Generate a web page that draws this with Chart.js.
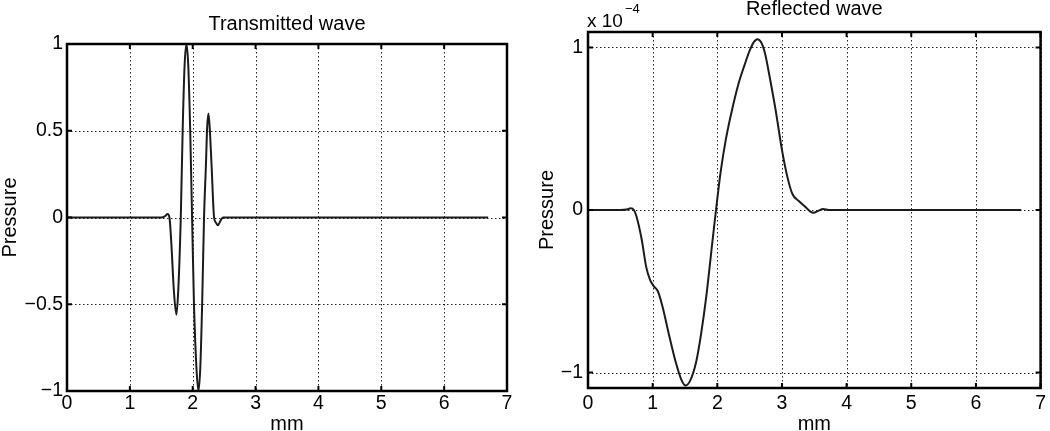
<!DOCTYPE html>
<html>
<head>
<meta charset="utf-8">
<script src="https://cdn.jsdelivr.net/npm/chart.js@4"></script>
<style>
  html, body { margin: 0; padding: 0; background: #fff; overflow: hidden; }
  #wrap { position: relative; width: 1050px; height: 431px; overflow: hidden; }
  canvas { position: absolute; top: 0; }
  #transChart { left: 0; }
  #reflChart { left: 530px; }
</style>
</head>
<body>
<div id="wrap">
  <canvas id="transChart" width="520" height="436"></canvas>
  <canvas id="reflChart" width="520" height="436"></canvas>
</div>
<script>
const FONT = '"Liberation Sans", Arial, Helvetica, sans-serif';
const INK = '#000';
const LINE = '#1b1b1b';

// x axis (mm), shared by both panels
const xTicks = [0, 1, 2, 3, 4, 5, 6, 7];

// Transmitted wave
const transMm = [0, 1.50, 1.56, 1.60, 1.63, 1.66, 1.70, 1.74, 1.77, 1.81, 1.84, 1.87, 1.90, 1.93, 1.96, 1.99,
  2.02, 2.06, 2.09, 2.12, 2.15, 2.18, 2.21, 2.23, 2.25, 2.27, 2.30, 2.34, 2.37, 2.40, 2.44, 2.48, 6.70];
const transPressure = [0, 0, 0.008, 0.02, 0, -0.15, -0.42, -0.56, -0.42, 0, 0.5, 0.87, 1.0, 0.87, 0.5, 0,
  -0.5, -0.87, -1.0, -0.87, -0.5, 0, 0.3, 0.52, 0.6, 0.52, 0.3, 0, -0.03, -0.045, -0.02, 0, 0];
const transYTicks = [-1, -0.5, 0, 0.5, 1];
const transYLabels = ['\u22121', '\u22120.5', '0', '0.5', '1'];

// Reflected wave (pressure in units of 1e-4)
const reflMm = [0, 0.50, 0.60, 0.66, 0.71, 0.75, 0.83, 0.90, 0.96, 1.02, 1.08, 1.15, 1.26, 1.36, 1.44, 1.51,
  1.58, 1.67, 1.75, 1.83, 1.92, 1.98, 2.05, 2.13, 2.23, 2.33, 2.42, 2.50, 2.56, 2.62, 2.68, 2.74, 2.80, 2.90, 3.00,
  3.08, 3.16, 3.26, 3.36, 3.44, 3.49, 3.56, 3.64, 3.72, 6.70];
const reflPressure = [0, 0, 0.003, 0.01, 0, -0.04, -0.18, -0.35, -0.43, -0.47, -0.50, -0.59, -0.78, -0.94, -1.04, -1.08,
  -1.05, -0.94, -0.76, -0.53, -0.21, 0, 0.23, 0.43, 0.62, 0.78, 0.89, 0.98, 1.03, 1.05, 1.03, 0.96, 0.84, 0.62, 0.37,
  0.21, 0.10, 0.055, 0.02, -0.01, -0.017, -0.005, 0.006, 0, 0];
const reflYTicks = [-1, 0, 1];
const reflYLabels = ['\u22121', '0', '1'];

// dotted grid, frame, inward tick marks, title and exponent note (MATLAB look)
const framePlugin = {
  id: 'frame',
  beforeDatasetsDraw(chart) {
    const { ctx, chartArea: a, scales: { x, y } } = chart;
    ctx.save();
    ctx.strokeStyle = '#222';
    ctx.lineWidth = 1;
    ctx.setLineDash([1.5, 2.5]);
    ctx.beginPath();
    x.ticks.forEach(t => {
      const px = Math.round(x.getPixelForValue(t.value)) + 0.5;
      ctx.moveTo(px, a.top); ctx.lineTo(px, a.bottom);
    });
    y.ticks.forEach(t => {
      const py = Math.round(y.getPixelForValue(t.value)) + 0.5;
      ctx.moveTo(a.left, py); ctx.lineTo(a.right, py);
    });
    ctx.stroke();
    ctx.restore();
  },
  afterDraw(chart, args, opts) {
    const { ctx, chartArea: a, scales: { x, y } } = chart;
    ctx.save();
    ctx.strokeStyle = INK;
    ctx.lineWidth = 2;
    const tl = 5;
    ctx.beginPath();
    x.ticks.forEach(t => {
      const px = x.getPixelForValue(t.value);
      ctx.moveTo(px, a.bottom); ctx.lineTo(px, a.bottom - tl);
      ctx.moveTo(px, a.top); ctx.lineTo(px, a.top + tl);
    });
    y.ticks.forEach(t => {
      const py = y.getPixelForValue(t.value);
      ctx.moveTo(a.left, py); ctx.lineTo(a.left + tl, py);
      ctx.moveTo(a.right, py); ctx.lineTo(a.right - tl, py);
    });
    ctx.stroke();
    ctx.lineWidth = 2.5;
    ctx.strokeRect(a.left, a.top, a.right - a.left, a.bottom - a.top);

    ctx.fillStyle = INK;
    ctx.textBaseline = 'alphabetic';
    ctx.textAlign = 'center';
    ctx.font = '20px ' + FONT;
    ctx.fillText(opts.title, (a.left + a.right) / 2, a.top - opts.titleGap);

    if (opts.exponent) {
      ctx.textAlign = 'left';
      ctx.font = '19px ' + FONT;
      ctx.fillText('x 10', a.left - 1, a.top - 5);
      const w = ctx.measureText('x 10').width;
      ctx.font = '13px ' + FONT;
      ctx.fillText(opts.exponent, a.left + w + 1, a.top - 19);
    }
    ctx.restore();
  }
};

function panel(id, mm, values, yTicks, yLabels, yRange, cfg) {
  const tickFont = { family: FONT, size: 19.5 };
  return new Chart(document.getElementById(id), {
    type: 'line',
    data: {
      datasets: [{
        data: mm.map((v, i) => ({ x: v, y: values[i] })),
        borderColor: LINE,
        borderWidth: 2,
        pointRadius: 0,
        cubicInterpolationMode: 'monotone',
        fill: false,
      }],
    },
    options: {
      responsive: false,
      animation: false,
      events: [],
      layout: { padding: cfg.padding },
      plugins: {
        legend: { display: false },
        tooltip: { enabled: false },
        frame: { title: cfg.title, titleGap: cfg.titleGap, exponent: cfg.exponent },
      },
      scales: {
        x: {
          type: 'linear',
          min: 0,
          max: 7,
          afterBuildTicks: s => { s.ticks = xTicks.map(v => ({ value: v })); },
          afterFit: s => { s.height = cfg.xHeight; },
          border: { display: false },
          grid: { display: false, drawTicks: false },
          ticks: { color: INK, font: tickFont, padding: cfg.xPad, maxRotation: 0, autoSkip: false,
                   callback: v => String(v) },
          title: { display: true, text: 'mm', color: INK, font: { family: FONT, size: 20 }, padding: { top: 0, bottom: 0 } },
        },
        y: {
          type: 'linear',
          min: yRange[0],
          max: yRange[1],
          afterBuildTicks: s => { s.ticks = yTicks.map(v => ({ value: v })); },
          afterFit: s => { s.width = cfg.yWidth; },
          border: { display: false },
          grid: { display: false, drawTicks: false },
          ticks: { color: INK, font: tickFont, padding: cfg.yPad,
                   callback: v => yLabels[yTicks.indexOf(v)] },
          title: { display: true, text: 'Pressure', color: INK, font: { family: FONT, size: 20 }, padding: { top: cfg.yTitlePad, bottom: 0 } },
        },
      },
    },
    plugins: [framePlugin],
  });
}

const transChart = panel('transChart', transMm, transPressure, transYTicks, transYLabels, [-1, 1], {
  title: 'Transmitted wave', titleGap: 14, exponent: null,
  padding: { top: 44, right: 13, left: 0, bottom: 0 },
  xHeight: 45, yWidth: 67, xPad: 1, yPad: 4, yTitlePad: -2,
});

const reflChart = panel('reflChart', reflMm, reflPressure, reflYTicks, reflYLabels, [-1.095, 1.095], {
  title: 'Reflected wave', titleGap: 17, exponent: '\u22124',
  padding: { top: 32, right: 7, left: 0, bottom: 0 },
  xHeight: 48, yWidth: 58, xPad: 4, yPad: 5, yTitlePad: 5,
});
</script>
</body>
</html>
